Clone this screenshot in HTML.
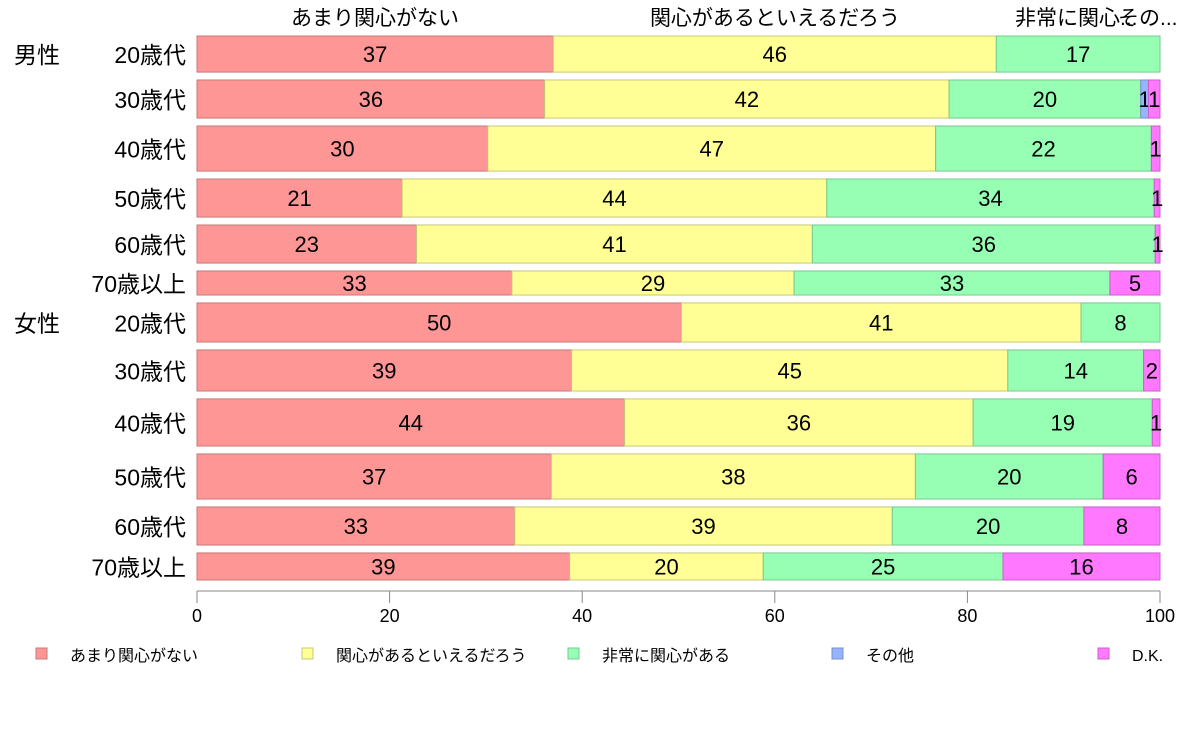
<!DOCTYPE html>
<html><head><meta charset="utf-8">
<style>
body{margin:0;background:#fff;}
svg text{font-family:"Liberation Sans","Noto Sans CJK JP",sans-serif;}
</style></head>
<body>
<svg id="chart" width="1188" height="736" xmlns="http://www.w3.org/2000/svg"></svg>
<script>
const categories=["男性 20歳代","30歳代","40歳代","50歳代","60歳代","70歳以上","女性 20歳代","30歳代","40歳代","50歳代","60歳代","70歳以上"];
const seriesNames=["あまり関心がない","関心があるといえるだろう","非常に関心がある","その他","D.K."];
const weights=[36,38,45,38,38,24,39,41,47,45,38,27];
const s1=[37.0,36.1,30.2,21.3,22.8,32.7,50.3,38.9,44.4,36.8,33.0,38.7];
const s2=[46.0,42.0,46.5,44.1,41.1,29.3,41.5,45.3,36.2,37.8,39.2,20.1];
const s3=[17.0,19.9,22.4,34.0,35.6,32.8,8.2,14.1,18.6,19.5,19.9,24.9];
const s4=[0,0.8,0,0,0,0,0,0,0,0,0,0];
const s5=[0,1.2,0.9,0.6,0.5,5.2,0,1.7,0.8,5.9,7.9,16.3];
const labels1=[37,36,30,21,23,33,50,39,44,37,33,39];
const labels2=[46,42,47,44,41,29,41,45,36,38,39,20];
const labels3=[17,20,22,34,36,33,8,14,19,20,20,25];
const labels4=["","1","","","","","","","","","",""];
const labels5=["","1","1","1","1","5","","2","1","6","8","16"];
const xTicks=[0,20,40,60,80,100];

const svg=document.getElementById('chart');
const NS="http://www.w3.org/2000/svg";
const fills=["#FF9696","#FFFF96","#96FFB4","#96B4FF","#FF78FF"];
const strokes=["#c87878","#c8c878","#78c890","#7890c8","#c860c8"];
const X0=197,X1=1160,Y0=36,Y1=580,GAP=7.9;
const xs=v=>X0+(X1-X0)*v/100;
const totalW=weights.reduce((a,b)=>a+b,0);
const unit=(Y1-Y0-GAP*(weights.length-1))/totalW;
function mk(tag,attrs,txt){const e=document.createElementNS(NS,tag);for(const k in attrs)e.setAttribute(k,attrs[k]);if(txt!==undefined)e.textContent=txt;svg.appendChild(e);return e;}
const series=[s1,s2,s3,s4,s5];
const lab=[labels1,labels2,labels3,labels4,labels5];
let y=Y0;
categories.forEach((c,i)=>{
  const h=weights[i]*unit;
  let cum=0;
  series.forEach((s,j)=>{
    const v=s[i];
    if(v>0){
      const r=mk('rect',{x:xs(cum),y:y,width:xs(cum+v)-xs(cum),height:h,fill:fills[j],stroke:strokes[j],'stroke-width':1});
      
      
      const l=lab[j][i];
      if(l!==""){
        const t=mk('text',{x:(xs(cum)+xs(cum+v))/2,y:y+h/2+8,'text-anchor':'middle','font-size':22,fill:'#000'},String(l));
        
        
      }
    }
    cum+=v;
  });
  const parts=c.split(' ');
  const t=mk('text',{x:186,y:y+h/2+9,'text-anchor':'end','font-size':23,fill:'#000'},parts[parts.length-1]);
  
  
  if(parts.length>1){
    const g=mk('text',{x:14,y:y+h/2+9,'font-size':23,fill:'#000'},parts[0]);
    
    
  }
  y+=h+GAP;
});
// top labels
const topL=[["あまり関心がない",375,'middle'],["関心があるといえるだろう",775,'middle'],["非常に関心...",1015,'start'],["その...",1118,'start']];
topL.forEach(a=>{const t=mk('text',{x:a[1],y:25,'text-anchor':a[2],'font-size':21,fill:'#000'},a[0]);

});
// axis
const ax=mk('line',{x1:X0,x2:X1,y1:591,y2:591,stroke:'#888','stroke-width':1});


xTicks.forEach(v=>{
  const l=mk('line',{x1:xs(v),x2:xs(v),y1:591,y2:603,stroke:'#888','stroke-width':1});
  
  
  const t=mk('text',{x:xs(v),y:622,'text-anchor':'middle','font-size':18,fill:'#000'},String(v));
  
  
});
// legend
const legX=[36,302,568,832,1098];
seriesNames.forEach((n,j)=>{
  const r=mk('rect',{x:legX[j],y:648,width:11,height:11,fill:fills[j],stroke:strokes[j]});
  
  
  const t=mk('text',{x:legX[j]+34,y:661,'font-size':16,fill:'#000'},n);
  
  
});
</script>
</body></html>
